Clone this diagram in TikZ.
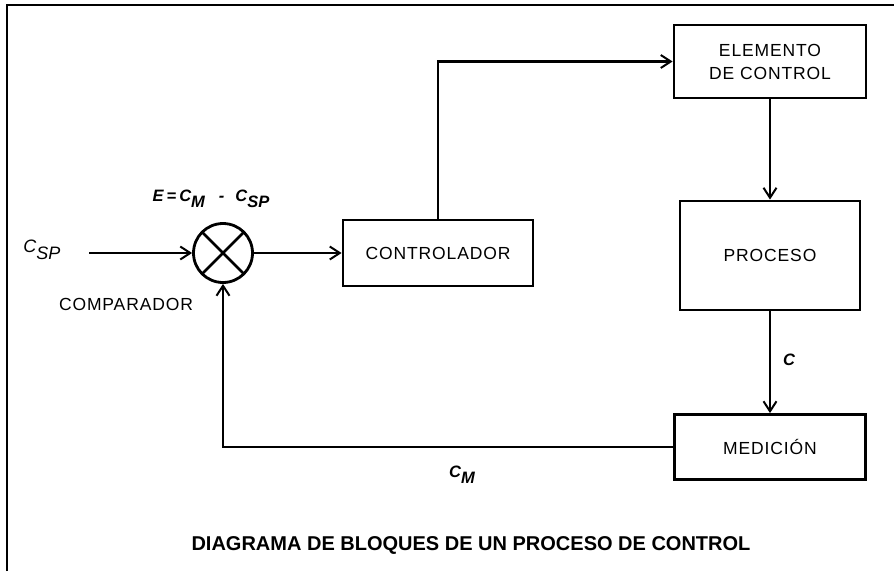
\documentclass[tikz,border=0pt]{standalone}
\usepackage{fontspec}
\setmainfont{Liberation Sans}
\newfontfamily\lblfont[LetterSpace=5]{Liberation Sans}
\usetikzlibrary{arrows.meta}
\newcommand\lowsub[1]{\raisebox{-0.36em}{#1}}
\begin{document}
\begin{tikzpicture}[x=1pt,y=-1pt,
  blk/.style={draw, line width=2.8pt, inner sep=0pt, align=center,
    font=\lblfont\fontsize{17.5}{23}\selectfont},
  lbl/.style={inner sep=0pt, font=\lblfont\fontsize{17.5}{23}\selectfont},
  conn/.style={line width=2.8pt},
  arr/.style={conn, -{Straight Barb[length=10pt,width=13pt,line width=2pt]}},
  sym/.style={inner sep=0pt, font=\fontsize{16.5}{18}\selectfont\bfseries\itshape},
  symr/.style={inner sep=0pt, font=\fontsize{18}{20}\selectfont\itshape}
]
\useasboundingbox (0,0) rectangle (894,571);
\draw[line width=2.4pt] (7,571) -- (7,5) -- (894,5);

\node[blk, minimum width=192pt, minimum height=73pt] (elem) at (770,61.5) {ELEMENTO\\DE CONTROL};
\node[blk, minimum width=180pt, minimum height=109pt] (proc) at (770,255.5) {PROCESO};
\node[blk, minimum width=191pt, minimum height=65pt] (med) at (770,447) {MEDICIÓN};
\node[blk, minimum width=190pt, minimum height=66pt] (ctrl) at (438,253) {CONTROLADOR};
\node[draw, circle, line width=2.8pt, minimum size=59pt, inner sep=0pt] (cmp) at (223,253) {};
\draw[conn, shorten <=1.4pt, shorten >=1.4pt] (cmp.45) -- (cmp.225);
\draw[conn, shorten <=1.4pt, shorten >=1.4pt] (cmp.135) -- (cmp.315);

\coordinate (in) at (89,253);
\draw[arr] (in) -- (cmp.west);
\draw[arr] (cmp.east) -- (ctrl.west);
\draw[arr] (ctrl.north) |- (elem.west);
\draw[arr] (elem.south) -- (proc.north);
\draw[arr] (proc.south) -- (med.north);
\draw[arr] (med.west) -| (cmp.south);

\node[symr] (csp) at (42,250) {C\lowsub{SP}};
\node[lbl] (cmpl) at (126,304) {COMPARADOR};
\node[sym] (err) at (211,199) {E\hspace{3pt}=\hspace{3pt}C\lowsub{M}\hspace{14pt}-\hspace{11pt}C\lowsub{SP}};
\node[sym] (cl) at (789,360) {C};
\node[sym] (cml) at (462,475) {C\lowsub{M}};
\node[inner sep=0pt, font=\bfseries\fontsize{20}{24}\selectfont] (title) at (471,545) {DIAGRAMA DE BLOQUES DE UN PROCESO DE CONTROL};
\end{tikzpicture}
\end{document}
